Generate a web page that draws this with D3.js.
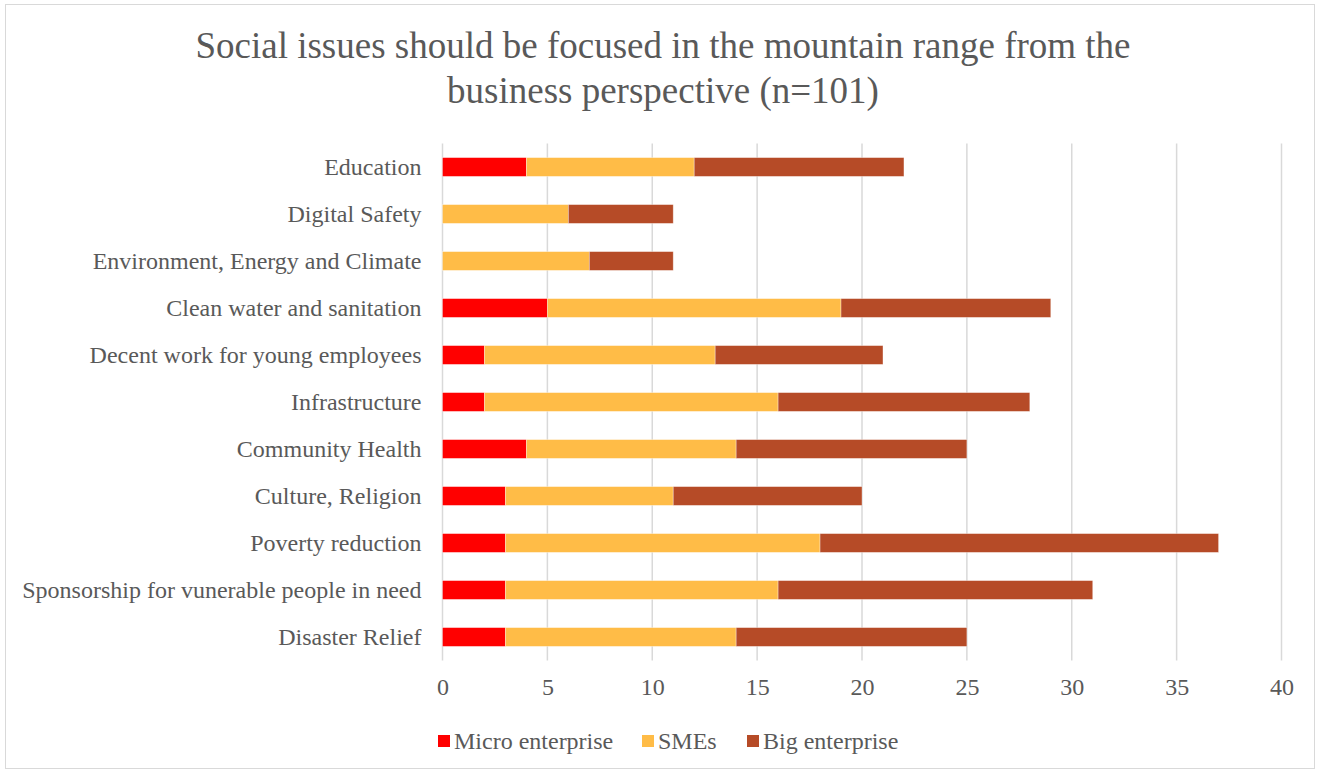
<!DOCTYPE html>
<html>
<head>
<meta charset="utf-8">
<script src="https://cdn.jsdelivr.net/npm/d3@7/dist/d3.min.js"></script>
<style>
  html, body { margin: 0; padding: 0; background: #fff; }
  svg { display: block; }
</style>
</head>
<body>
<svg id="chart" width="1320" height="773"></svg>
<script>
// Issue categories, top to bottom
const categories = [
  "Education",
  "Digital Safety",
  "Environment, Energy and Climate",
  "Clean water and sanitation",
  "Decent work for young employees",
  "Infrastructure",
  "Community Health",
  "Culture, Religion",
  "Poverty reduction",
  "Sponsorship for vunerable people in need",
  "Disaster Relief"
];

// Responses per enterprise size
const microEnterprise = [4, 0, 0, 5, 2, 2, 4, 3, 3, 3, 3];
const smes            = [8, 6, 7, 14, 11, 14, 10, 8, 15, 13, 11];
const bigEnterprise   = [10, 5, 4, 10, 8, 12, 11, 9, 19, 15, 11];

const seriesNames = ["Micro enterprise", "SMEs", "Big enterprise"];
const seriesColors = ["#FF0000", "#FFBC47", "#B64B27"];
const xTicks = [0, 5, 10, 15, 20, 25, 30, 35, 40];

const titleLines = [
  "Social issues should be focused in the mountain range from the",
  "business perspective (n=101)"
];

const svg = d3.select("#chart");
const W = 1320, H = 773;
const font = "'Liberation Serif', 'Times New Roman', serif";
const textColor = "#595959";
const labelSize = 24;

// Outer chart frame
svg.append("rect")
  .attr("x", 5.5).attr("y", 4.5)
  .attr("width", W - 11).attr("height", H - 9)
  .attr("fill", "#fff")
  .attr("stroke", "#d9d9d9").attr("stroke-width", 1);

// Title
svg.append("g").selectAll("text")
  .data(titleLines)
  .join("text")
  .attr("x", 663)
  .attr("y", (d, i) => 58 + i * 45)
  .attr("text-anchor", "middle")
  .attr("font-family", font)
  .attr("font-size", 37)
  .attr("fill", textColor)
  .text(d => d);

const plot = { left: 442.5, right: 1281.5, top: 143.5, bottom: 660.5 };

const x = d3.scaleLinear().domain([0, 40]).range([plot.left, plot.right]);
const y = d3.scaleBand().domain(categories).range([plot.top, plot.bottom]).paddingInner(0.6).paddingOuter(0.3);

// Vertical gridlines
svg.append("g")
  .selectAll("line")
  .data(xTicks)
  .join("line")
  .attr("x1", d => x(d)).attr("x2", d => x(d))
  .attr("y1", plot.top).attr("y2", plot.bottom)
  .attr("stroke", "#d9d9d9").attr("stroke-width", 1.5);

// Stack the three series
const rows = categories.map((c, i) => ({
  category: c,
  "Micro enterprise": microEnterprise[i],
  "SMEs": smes[i],
  "Big enterprise": bigEnterprise[i]
}));
const stacked = d3.stack().keys(seriesNames)(rows);

svg.append("g")
  .selectAll("g")
  .data(stacked)
  .join("g")
  .attr("fill", (d, i) => seriesColors[i])
  .selectAll("rect")
  .data(d => d.filter(s => s[1] - s[0] > 0))
  .join("rect")
  .attr("x", d => x(d[0]))
  .attr("width", d => x(d[1]) - x(d[0]))
  .attr("y", d => y(d.data.category))
  .attr("height", y.bandwidth())
  .attr("stroke", "#ffffff").attr("stroke-opacity", 0.45).attr("stroke-width", 0.75);

// Category axis
const yAxis = svg.append("g")
  .attr("transform", `translate(${plot.left},0)`)
  .call(d3.axisLeft(y).tickSize(0).tickPadding(21));
yAxis.select(".domain").remove();
yAxis.selectAll("text")
  .attr("font-family", font)
  .attr("font-size", labelSize)
  .attr("fill", textColor);

// Value axis
const xAxis = svg.append("g")
  .attr("transform", `translate(0,${plot.bottom})`)
  .call(d3.axisBottom(x).tickValues(xTicks).tickSize(0).tickPadding(17));
xAxis.select(".domain").remove();
xAxis.selectAll("text")
  .attr("font-family", font)
  .attr("font-size", labelSize)
  .attr("fill", textColor);

// Legend
const legendX = [438, 642, 747];
const legend = svg.append("g")
  .selectAll("g")
  .data(seriesNames)
  .join("g")
  .attr("transform", (d, i) => `translate(${legendX[i]},741)`);
legend.append("rect")
  .attr("x", 0).attr("y", -6)
  .attr("width", 12).attr("height", 12)
  .attr("fill", (d, i) => seriesColors[i]);
legend.append("text")
  .attr("x", 16).attr("y", 0)
  .attr("dy", "0.35em")
  .attr("font-family", font)
  .attr("font-size", labelSize)
  .attr("fill", textColor)
  .text(d => d);
</script>
</body>
</html>
